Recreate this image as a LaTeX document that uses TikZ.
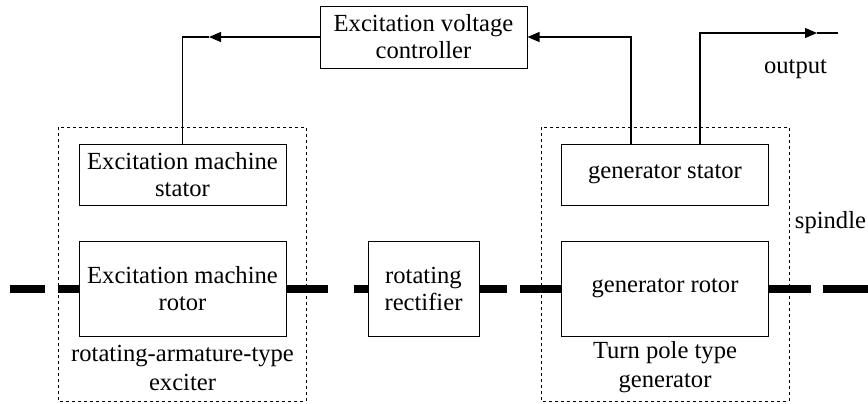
\documentclass[tikz,border=0pt]{standalone}
\usepackage{fontspec}
\setmainfont{Liberation Serif}[Ligatures=TeX]
\newfontfamily\timesfont{Liberation Serif}
\usetikzlibrary{positioning,arrows.meta}

\tikzstyle{statorbox} = [rectangle, minimum width=103.5pt, minimum height=30.5pt, text centered, align=center, draw=black, line width=0.5pt]
\tikzstyle{rotorbox} = [rectangle, minimum width=103.5pt, minimum height=47.5pt, text centered, align=center, draw=black, line width=0.5pt]
\tikzstyle{rectbox} = [rectangle, minimum width=55.5pt, minimum height=47.5pt, text centered, align=center, draw=black, line width=0.5pt]
\tikzstyle{ctrlbox} = [rectangle, minimum width=103.5pt, minimum height=31pt, text centered, align=center, draw=black, line width=0.5pt]
\tikzstyle{caption} = [align=center, inner sep=0pt, font=\timesfont\fontsize{12.3}{14.5}\selectfont]
\tikzstyle{frame} = [line width=0.5pt, dash pattern=on 1.5pt off 1.5pt]
\tikzstyle{shaft} = [line width=4pt]
\tikzstyle{arrow} = [line width=0.6pt, -{Triangle[length=6pt,width=5pt]}]
\tikzstyle{wire} = [line width=0.6pt]

\begin{document}
\begin{tikzpicture}[x=0.5pt, y=-0.5pt, font=\timesfont\fontsize{12.3}{13.5}\selectfont]
		\useasboundingbox (0,0) rectangle (868,403);

		\node (exrotor) [rotorbox] at (182.5,288.5) {Excitation machine\\rotor};
		\node (exstator) [statorbox, above of=exrotor, node distance=57pt] {Excitation machine\\stator};
		\node (rect) [rectbox, right of=exrotor, node distance=120.5pt] {rotating\\rectifier};
		\node (genrotor) [rotorbox, right of=rect, node distance=120.75pt] {generator rotor};
		\node (genstator) [statorbox, above of=genrotor, node distance=57pt] {generator stator};
		\node (ctrl) [ctrlbox, above of=rect, node distance=125.75pt] {Excitation voltage\\controller};

		\node (exlabel) [caption, below of=exrotor, node distance=39.5pt] {rotating-armature-type\\exciter};
		\node (genlabel) [caption, below of=genrotor, node distance=39.5pt] {Turn pole type\\generator};
		\node (outlabel) [caption] at (795.5,69) {output};
		\node (spindle) [caption] at (830.5,223) {spindle};

		\draw [frame] (58,127) rectangle (306,401);
		\draw [frame] (541,127) rectangle (789,401);

		\draw [shaft] (10,288.5) -- (45,288.5);
		\draw [shaft] (58,288.5) -- (exrotor.west);
		\draw [shaft] (exrotor.east) -- (328,288.5);
		\draw [shaft] (354,288.5) -- (rect.west);
		\draw [shaft] (rect.east) -- (507,288.5);
		\draw [shaft] (520,288.5) -- (genrotor.west);
		\draw [shaft] (genrotor.east) -- (811,288.5);
		\draw [shaft] (823,288.5) -- (868,288.5);

		\coordinate (lefttip) at (209,37);
		\coordinate (outtip) at (817,33);
		\coordinate (outend) at (838,33);
		\draw [arrow] (ctrl.west) -- (lefttip);
		\draw [wire] (lefttip) -| (exstator.north);
		\draw [arrow] ([xshift=-17pt]genstator.north) |- (ctrl.east);
		\draw [arrow] ([xshift=17.5pt]genstator.north) |- (outtip);
		\draw [wire] (outtip) -- (outend);
	\end{tikzpicture}
\end{document}
